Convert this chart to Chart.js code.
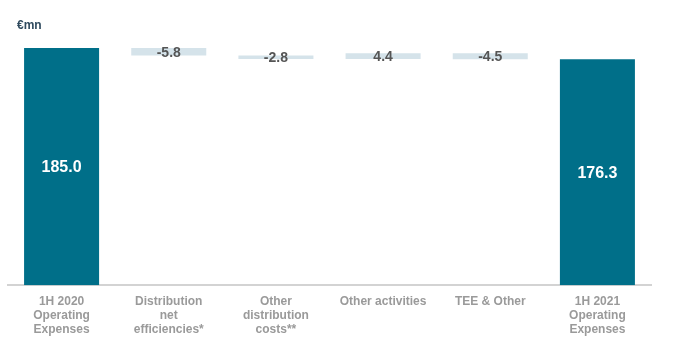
<!DOCTYPE html>
<html>
<head>
<meta charset="utf-8">
<script src="https://cdn.jsdelivr.net/npm/chart.js@4/dist/chart.umd.min.js"></script>
<style>
  html, body { margin: 0; padding: 0; background: #fff; overflow: hidden; }
  #wrap { position: relative; width: 688px; height: 341px; overflow: hidden; }
  #unit { position: absolute; left: 17px; top: 18px; font: bold 12px "Liberation Sans", Arial, sans-serif; color: #2f4a5e; }
</style>
</head>
<body>
<div id="wrap">
  <div id="unit">€mn</div>
  <canvas id="chart" width="688" height="346"></canvas>
</div>
<script>
// categories and values (waterfall)
const categories = [
    ['1H 2020', 'Operating', 'Expenses'],
    ['Distribution', 'net', 'efficiencies*'],
    ['Other', 'distribution', 'costs**'],
    ['Other activities'],
    ['TEE & Other'],
    ['1H 2021', 'Operating', 'Expenses']
];
const startTotal = 185.0;
const deltas = [-5.8, -2.8, 4.4, -4.5];
const endTotal = 176.3;

// build floating bars from the deltas
const barData = [[0, startTotal]];
const labels = [startTotal.toFixed(1)];
let running = startTotal;
deltas.forEach(d => {
    barData.push([running, running + d]);
    labels.push(d.toFixed(1));
    running += d;
});
barData.push([0, endTotal]);
labels.push(endTotal.toFixed(1));

const totalColor = '#006f89';
const deltaColor = '#d5e3ea';
const colors = barData.map((_, i) => (i === 0 || i === barData.length - 1) ? totalColor : deltaColor);

const valueLabels = {
    id: 'valueLabels',
    afterDatasetsDraw(chart) {
        const ctx = chart.ctx;
        const meta = chart.getDatasetMeta(0);
        ctx.save();
        ctx.textAlign = 'center';
        ctx.textBaseline = 'middle';
        meta.data.forEach((bar, i) => {
            const isTotal = (i === 0 || i === meta.data.length - 1);
            const y = (bar.y + bar.base) / 2;
            ctx.font = isTotal ? 'bold 16px "Liberation Sans", Arial, sans-serif' : 'bold 14px "Liberation Sans", Arial, sans-serif';
            ctx.fillStyle = isTotal ? '#ffffff' : '#555555';
            ctx.fillText(labels[i], bar.x, y + 1);
        });
        ctx.restore();
    }
};

new Chart(document.getElementById('chart'), {
    type: 'bar',
    data: {
        labels: categories,
        datasets: [{
            data: barData,
            backgroundColor: colors,
            borderWidth: 0,
            categoryPercentage: 1.0,
            barPercentage: 0.7
        }]
    },
    options: {
        responsive: false,
        animation: false,
        layout: { padding: { left: 8, right: 37, top: 39, bottom: 0 } },
        plugins: { legend: { display: false }, tooltip: { enabled: false } },
        scales: {
            x: {
                grid: { display: false, drawTicks: false },
                border: { color: '#d3d3d3', width: 2 },
                ticks: {
                    color: '#9a9a9a',
                    padding: 10,
                    maxRotation: 0,
                    autoSkip: false,
                    font: { family: '"Liberation Sans", Arial, sans-serif', size: 12, weight: 'bold', lineHeight: 1.13 }
                }
            },
            y: {
                display: false,
                min: 0,
                max: 192
            }
        }
    },
    plugins: [valueLabels]
});
</script>
</body>
</html>
